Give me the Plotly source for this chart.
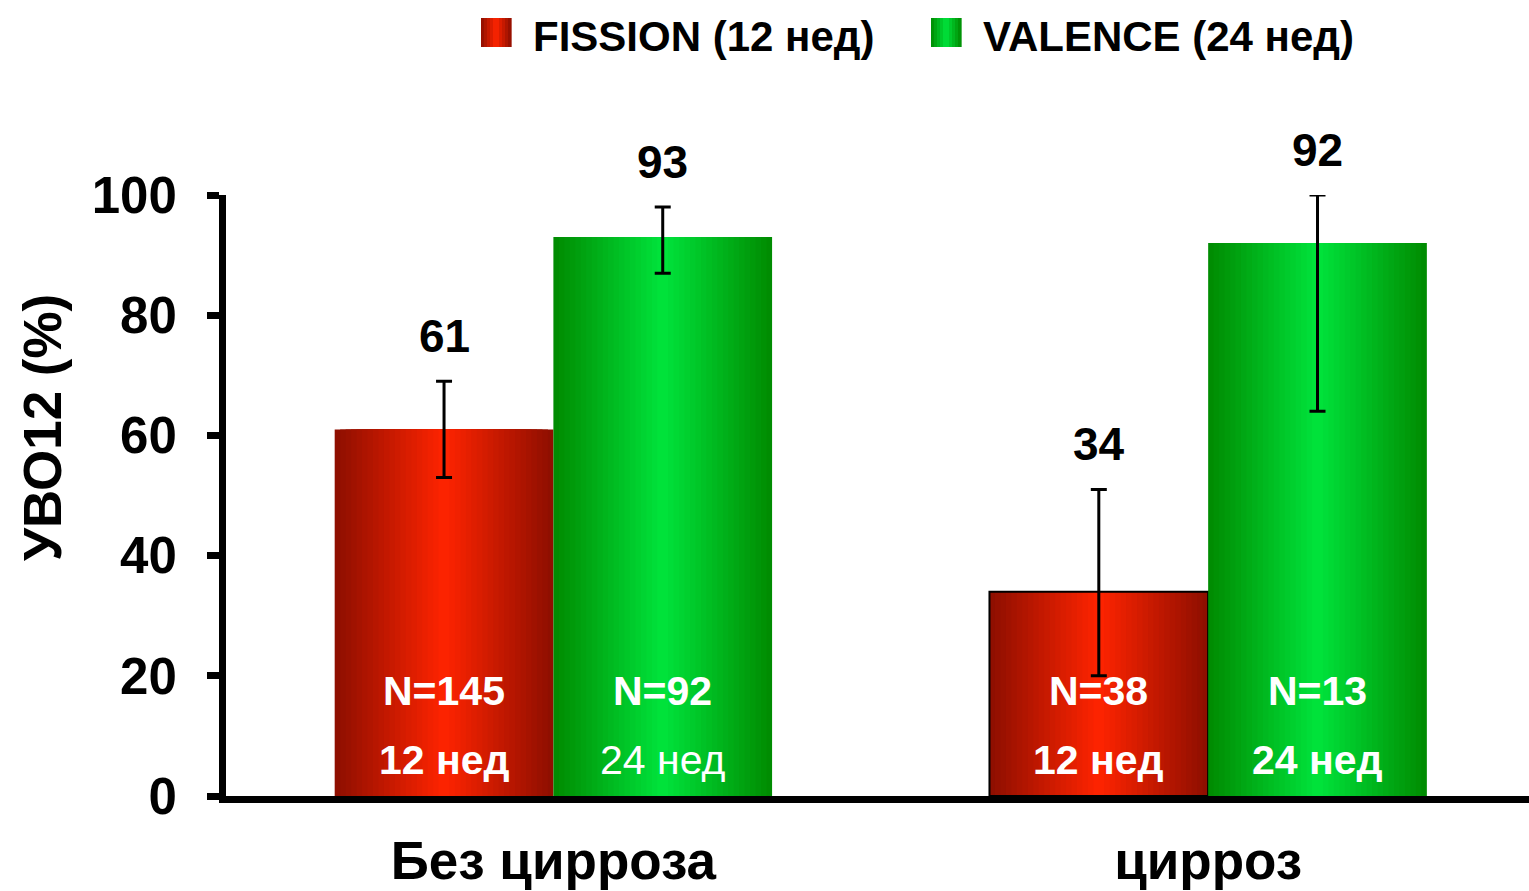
import plotly.graph_objects as go

# ---------------- data ----------------
categories = ["Без цирроза", "цирроз"]
series_names = ["FISSION (12 нед)", "VALENCE (24 нед)"]

fission_values = [61, 34]
fission_err_plus = [8, 17]
fission_err_minus = [8, 14]

valence_values = [93, 92]
valence_err_plus = [5, 8]
valence_err_minus = [6, 28]

fission_n = ["N=145", "N=38"]
valence_n = ["N=92", "N=13"]
fission_weeks = ["12 нед", "12 нед"]
valence_weeks = ["24 нед", "24 нед"]

y_ticks = [0, 20, 40, 60, 80, 100]
y_title = "УВО12 (%)"

# ---------------- styles ----------------
FONT = "Liberation Sans, Arial, sans-serif"
RED_EDGE, RED_CENTER = (140, 14, 0), (255, 36, 0)
GREEN_EDGE, GREEN_CENTER = (0, 138, 0), (0, 228, 60)
BAR_W = 0.334
N_LAYERS = 20

W, H = 1529, 891
M_L, M_R, M_T, M_B = 226, 0, 195, 95


def lerp(c1, c2, t):
    return "rgb(%d,%d,%d)" % tuple(round(a + (b - a) * t) for a, b in zip(c1, c2))


def gradient_traces(values, edge, center, base_offset, err_plus, err_minus, outline):
    traces = []
    for k in range(N_LAYERS):
        f = 1 - k / N_LAYERS
        f_next = 1 - (k + 1) / N_LAYERS
        d = (f + f_next) / 2
        w = BAR_W * f
        traces.append(go.Bar(
            x=categories, y=values, width=w,
            offset=base_offset + BAR_W / 2 - w / 2,
            marker=dict(color=lerp(center, edge, d), line=dict(width=0)),
            showlegend=False, hoverinfo="skip",
        ))
    traces.append(go.Bar(
        x=categories, y=values, width=BAR_W, offset=base_offset,
        marker=dict(color="rgba(0,0,0,0)", line=dict(width=outline, color="black")),
        error_y=dict(type="data", symmetric=False, array=err_plus, arrayminus=err_minus,
                     color="black", thickness=3, width=8),
        showlegend=False, hoverinfo="skip",
    ))
    return traces


fig = go.Figure()
for t in gradient_traces(fission_values, RED_EDGE, RED_CENTER, -BAR_W,
                         fission_err_plus, fission_err_minus, [0, 2]):
    fig.add_trace(t)
for t in gradient_traces(valence_values, GREEN_EDGE, GREEN_CENTER, 0,
                         valence_err_plus, valence_err_minus, [0, 0]):
    fig.add_trace(t)

annotations = []
# value labels above error bars
for i in range(len(categories)):
    for vals, plus, off in ((fission_values, fission_err_plus, -BAR_W / 2),
                            (valence_values, valence_err_plus, BAR_W / 2)):
        annotations.append(dict(
            x=i + off, y=vals[i] + plus[i], xref="x", yref="y",
            text=str(vals[i]), showarrow=False, yanchor="bottom", yshift=17,
            font=dict(family=FONT, size=46, color="black", weight="bold"),
        ))
# labels inside bars
for i in range(len(categories)):
    for ns, wk, off in ((fission_n, fission_weeks, -BAR_W / 2),
                        (valence_n, valence_weeks, BAR_W / 2)):
        annotations.append(dict(
            x=i + off, y=17.4, xref="x", yref="y", text=ns[i], showarrow=False,
            font=dict(family=FONT, size=41, color="white", weight="bold"),
        ))
        regular = (ns is valence_n and i == 0)
        annotations.append(dict(
            x=i + off, y=6, xref="x", yref="y", text=wk[i], showarrow=False,
            font=dict(family=FONT, size=41, color="white",
                      weight="normal" if regular else "bold"),
        ))

pw, ph = W - M_L - M_R, H - M_T - M_B


def px_x(px):
    return (px - M_L) / pw


def px_y(py):
    return (H - M_B - py) / ph


# y-axis title
annotations.append(dict(
    x=px_x(42), y=px_y(428), xref="paper", yref="paper", text=y_title,
    showarrow=False, textangle=-90, xanchor="center", yanchor="middle",
    font=dict(family=FONT, size=53, color="black", weight="bold"),
))

# manual legend (big gradient swatches)
shapes = []
for left, edge, center, name in ((481, RED_EDGE, RED_CENTER, series_names[0]),
                                 (931, GREEN_EDGE, GREEN_CENTER, series_names[1])):
    n = 10
    sw = 30
    for k in range(n):
        x0 = left + sw * k / n
        x1 = left + sw * (k + 1) / n
        d = abs(((k + 0.5) / n) * 2 - 1)
        shapes.append(dict(type="rect", xref="paper", yref="paper",
                           x0=px_x(x0), x1=px_x(x1) + 0.0005, y0=px_y(47), y1=px_y(18),
                           fillcolor=lerp(center, edge, d), line=dict(width=0)))
    annotations.append(dict(
        x=px_x(left + 50), y=px_y(36), xref="paper", yref="paper", text=name,
        showarrow=False, xanchor="left", yanchor="middle",
        font=dict(family=FONT, size=42, color="black", weight="bold"),
    ))

fig.update_layout(
    width=W, height=H,
    margin=dict(l=M_L, r=M_R, t=M_T, b=M_B, autoexpand=False),
    paper_bgcolor="white", plot_bgcolor="white",
    barmode="overlay",
    showlegend=False,
    annotations=annotations,
    shapes=shapes,
    xaxis=dict(
        type="category", range=[-0.5, 1.49], automargin=False,
        showline=True, linewidth=7, linecolor="black",
        ticks="", showgrid=False, zeroline=False,
        tickfont=dict(family=FONT, size=53, color="black", weight="bold"),
        ticklabelstandoff=12,
    ),
    yaxis=dict(
        range=[0, 100], tickvals=y_ticks, automargin=False,
        showline=True, linewidth=7, linecolor="black",
        ticks="outside", ticklen=12, tickwidth=7, tickcolor="black",
        showgrid=False, zeroline=False,
        tickfont=dict(family=FONT, size=51, color="black", weight="bold"),
        ticklabelstandoff=20,
    ),
)

fig.write_html("out.html", config={"displayModeBar": False},
               post_script="document.body.style.margin='0';document.body.style.overflow='hidden';")
